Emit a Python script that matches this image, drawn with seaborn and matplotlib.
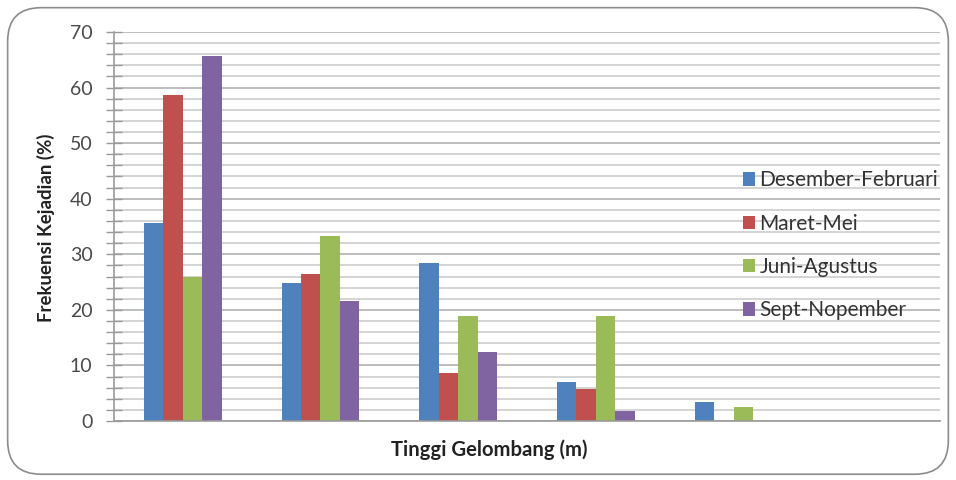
import matplotlib
matplotlib.use("Agg")
import matplotlib.pyplot as plt
from matplotlib.patches import FancyBboxPatch
from matplotlib.ticker import MultipleLocator
import seaborn as sns
import pandas as pd

# Wave-height classes (tick labels are not shown on the axis)
classes = ["1", "2", "3", "4", "5", "6"]
seasons = ["Desember-Februari", "Maret-Mei", "Juni-Agustus", "Sept-Nopember"]
des_feb = [35.7, 24.8, 28.5, 7.1, 3.4, 0.0]
mar_mei = [58.7, 26.4, 8.7, 5.8, 0.0, 0.0]
jun_agu = [26.0, 33.3, 18.9, 18.9, 2.5, 0.0]
sep_nop = [65.6, 21.6, 12.4, 1.8, 0.0, 0.0]
colors = ["#4F81BD", "#C0504D", "#9BBB59", "#8064A2"]

rows = []
for name, vals in zip(seasons, [des_feb, mar_mei, jun_agu, sep_nop]):
    for c, v in zip(classes, vals):
        rows.append({"kelas": c, "musim": name, "frekuensi": v})
df = pd.DataFrame(rows)

sns.set_theme(style="white")
plt.rcParams["font.family"] = ["Lato", "DejaVu Sans"]

fig = plt.figure(figsize=(9.56, 4.8), dpi=100)
ax = fig.add_axes([0.1192, 0.1229, 0.9833 - 0.1192, 0.9333 - 0.1229])

# rounded chart-area border
fig.patches.append(FancyBboxPatch((0.008, 0.012), 0.984, 0.972,
                                  boxstyle="round,pad=0,rounding_size=0.035",
                                  transform=fig.transFigure, fill=False,
                                  edgecolor="#8c8c8c", linewidth=1.2,
                                  mutation_aspect=2.0))

sns.barplot(data=df, x="kelas", y="frekuensi", hue="musim", order=classes,
            hue_order=seasons, palette=colors, width=0.566, gap=0,
            saturation=1, ax=ax, linewidth=0)

ax.set_ylim(0, 70)
ax.set_xlim(-0.5, len(classes) - 0.5)
ax.yaxis.set_major_locator(MultipleLocator(10))
ax.yaxis.set_minor_locator(MultipleLocator(2))
ax.grid(axis="y", which="major", color="#bdbdbd", linewidth=1.4)
ax.grid(axis="y", which="minor", color="#cdcdcd", linewidth=1.2)
ax.set_axisbelow(True)

for side in ["top", "right"]:
    ax.spines[side].set_visible(False)
for side in ["left", "bottom"]:
    ax.spines[side].set_color("#9a9a9a")
    ax.spines[side].set_linewidth(1.2)

ax.tick_params(axis="y", which="both", left=True, direction="inout", length=11,
               color="#9a9a9a", width=1, labelsize=14, labelcolor="#4a4a4a",
               pad=10)
ax.tick_params(axis="x", bottom=False, labelbottom=False)

ax.set_xlabel("")
ax.set_ylabel("")
fig.text(0.048, 0.525, "Frekuensi Kejadian (%)", rotation=90, ha="center",
         va="center", fontsize=13.4, fontweight="bold", color="#222222")
fig.text(0.512, 0.0625, "Tinggi Gelombang (m)", ha="center", va="center",
         fontsize=14.6, fontweight="bold", color="#222222")

handles, labels = ax.get_legend_handles_labels()
ax.legend(handles, labels, loc="center left", bbox_to_anchor=(0.777, 0.489),
          bbox_transform=fig.transFigure, frameon=False, fontsize=15,
          handlelength=0.6, handleheight=0.6, handletextpad=0.2,
          labelspacing=1.12, labelcolor="#333333", borderaxespad=0,
          borderpad=0)

fig.savefig("out.png", dpi=100)
